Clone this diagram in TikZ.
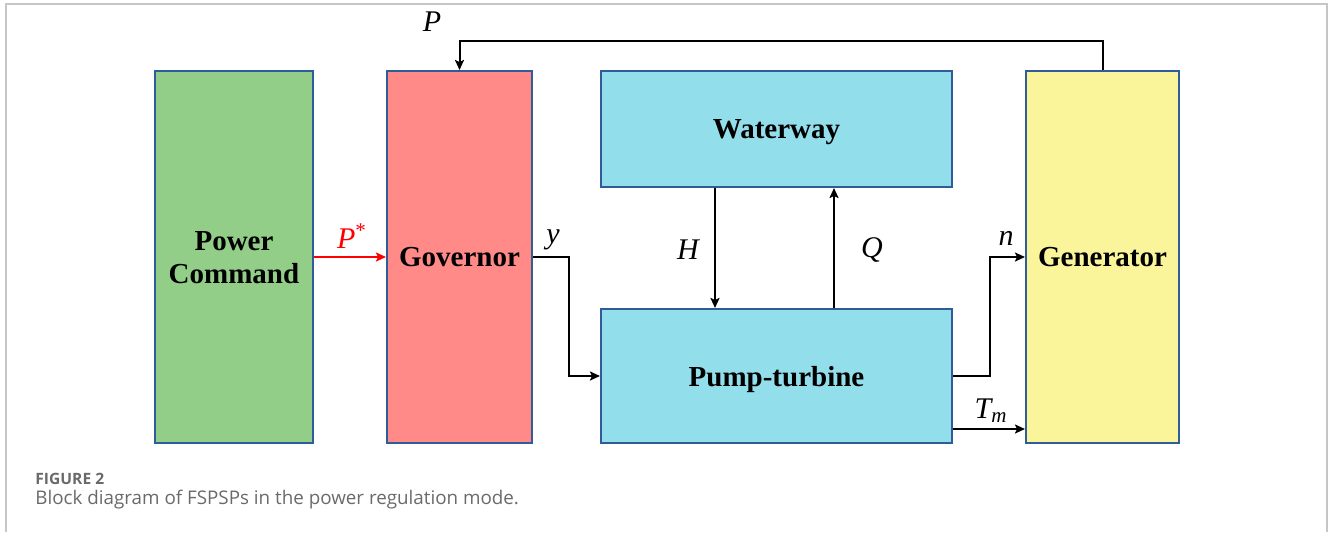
\documentclass[tikz,border=0pt]{standalone}
\usepackage{fontspec}
\setmainfont{Liberation Serif}
\newfontfamily\capfont{Open Sans}
\usetikzlibrary{arrows.meta,calc}

\definecolor{boxblue}{HTML}{2F5C9A}
\definecolor{cmdgreen}{HTML}{93CE89}
\definecolor{govred}{HTML}{FF8A88}
\definecolor{watercyan}{HTML}{93DEEB}
\definecolor{genyellow}{HTML}{FAF59B}
\definecolor{capgray}{HTML}{6A6A6A}

\tikzset{
  block/.style={draw=boxblue,line width=1pt,inner sep=0pt,align=center,text depth=0pt,
    font=\fontsize{14.5}{16.5}\selectfont\bfseries},
  sig/.style={->,line width=1pt},
  lbl/.style={font=\fontsize{15}{17}\selectfont\itshape,inner sep=0pt}
}

\begin{document}
\begin{tikzpicture}[x=0.5pt,y=-0.5pt,>={Stealth[length=5pt,width=4.5pt,inset=1pt]}]
  \useasboundingbox (0,0) rectangle (1330,532);
  \draw[gray!45,line width=1pt] (6,532) -- (6,4) -- (1327,4) -- (1327,532);
  % blocks
  \node[block,fill=cmdgreen,minimum width=79pt,minimum height=186pt] (cmd) at (234,257) {Power\\Command};
  \node[block,fill=govred,minimum width=72.5pt,minimum height=186pt] (gov) at (459.5,257) {Governor};
  \node[block,fill=watercyan,minimum width=175.5pt,minimum height=58pt] (water) at (776.5,129) {Waterway};
  \node[block,fill=watercyan,minimum width=175.5pt,minimum height=67pt] (pump) at (776.5,376) {Pump-turbine};
  \node[block,fill=genyellow,minimum width=76.5pt,minimum height=186pt] (gen) at (1102.5,257) {Generator};
  % signals
  \draw[sig,red] (cmd.east) -- (gov.west);
  \draw[sig] (gov.east) -- ++(36,0) |- (pump.west);
  \draw[sig] (water.south -| 715,0) -- (pump.north -| 715,0);
  \draw[sig] (pump.north -| 834,0) -- (water.south -| 834,0);
  \draw[sig] (pump.east) -- ++(37,0) |- (gen.west);
  \draw[sig] (pump.east |- 0,429) -- (gen.west |- 0,429);
  \draw[sig] (gen.north) -- ++(0,-29) -| (gov.north);
  % labels
  \node[lbl,red] (lPs) at (352,236) {P\textsuperscript{\upshape *}};
  \node[lbl] (ly) at (553,240) {y};
  \node[lbl] (lH) at (688,250) {H};
  \node[lbl] (lQ) at (872,250) {Q};
  \node[lbl] (ln) at (1006,238) {n};
  \node[lbl] (lTm) at (991,411) {T\textsubscript{m}};
  \node[lbl] (lP) at (432,22) {P};
  % caption
  \node[capgray,anchor=base west,inner sep=0pt,font=\capfont\bfseries\fontsize{7.8}{9}\selectfont] (fig) at (35,484) {FIGURE 2};
  \node[capgray,anchor=base west,inner sep=0pt,font=\capfont\fontsize{9.4}{11}\selectfont] (cap) at (35,504) {Block diagram of FSPSPs in the power regulation mode.};
\end{tikzpicture}
\end{document}
